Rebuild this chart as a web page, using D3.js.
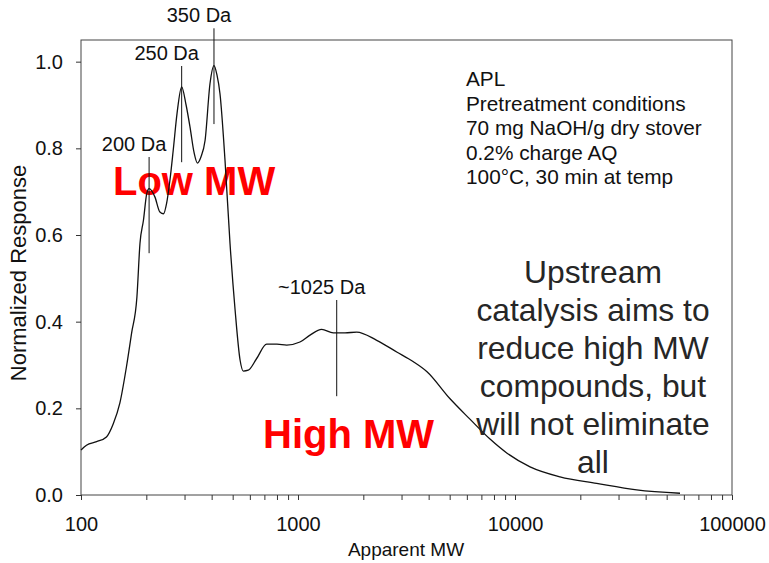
<!DOCTYPE html>
<html lang="en">
<head>
    <meta charset="UTF-8">
    <title>Apparent MW distribution</title>
    <style>
        body { margin: 0; background: #fff; }
        svg text { font-family: "Liberation Sans", Arial, sans-serif; }
        .axis path.domain { display: none; }
        .axis line { stroke: #333; }
    </style>
    <script src="https://d3js.org/d3.v7.min.js"></script>
</head>
<body>
    <script>
        // curve: apparent MW (Da) and normalized response
        const mw = [100, 106, 118, 131, 141, 151, 162, 171, 181, 187, 194, 201, 206, 219, 231, 240, 248, 257, 266, 277,
            291, 305, 318, 332, 344, 357, 373, 393, 410, 423, 437, 461, 486, 513, 541, 560, 590, 645, 717, 800,
            887, 1021, 1136, 1286, 1454, 1647, 1864, 2305, 2850, 3390, 3920, 5020, 6200, 7670, 9160, 11730, 16120,
            23790, 36380, 57600];
        const response = [0.104, 0.115, 0.123, 0.134, 0.165, 0.212, 0.296, 0.373, 0.457, 0.581, 0.634, 0.696, 0.707, 0.688, 0.653, 0.649, 0.673, 0.727, 0.795, 0.88,
            0.942, 0.90, 0.849, 0.79, 0.766, 0.78, 0.818, 0.949, 0.991, 0.97, 0.926, 0.772, 0.581, 0.427, 0.311, 0.286, 0.288, 0.315, 0.348, 0.348,
            0.346, 0.353, 0.369, 0.382, 0.374, 0.374, 0.376, 0.357, 0.330, 0.308, 0.285, 0.222, 0.175, 0.129, 0.097, 0.065, 0.042,
            0.027, 0.012, 0.004];

        // peak markers
        const peakLabels = ["200 Da", "250 Da", "350 Da", "~1025 Da"];
        const peakMW = [206, 291, 410, 1508];
        const peakTop = [0.78, 0.99, 1.077, 0.45];
        const peakBottom = [0.558, 0.768, 0.856, 0.228];

        const xMajor = [100, 1000, 10000, 100000];
        const yTicks = [0, 0.2, 0.4, 0.6, 0.8, 1.0];

        const infoLines = ["APL", "Pretreatment conditions", "70 mg NaOH/g dry stover", "0.2% charge AQ", "100°C, 30 min at temp"];
        const noteLines = ["Upstream", "catalysis aims to", "reduce high MW", "compounds, but", "will not eliminate", "all"];

        const W = 769, H = 563;
        const plotL = 81, plotR = 732, plotT = 40, plotB = 495;

        const svg = d3.select("body").append("svg")
            .attr("width", W).attr("height", H);

        const x = d3.scaleLog().domain([100, 100000]).range([plotL, plotR]);
        const y = d3.scaleLinear().domain([0, 1.05]).range([plotB, plotT]);

        // frame
        svg.append("rect")
            .attr("x", plotL).attr("y", plotT)
            .attr("width", plotR - plotL).attr("height", plotB - plotT)
            .attr("fill", "none").attr("stroke", "#444").attr("stroke-width", 1);

        // axes
        const xAxis = svg.append("g").attr("class", "axis")
            .attr("transform", `translate(0,${plotB})`)
            .call(d3.axisBottom(x)
                .tickValues(x.ticks())
                .tickFormat(d => xMajor.includes(d) ? d3.format("d")(d) : "")
                .tickSizeInner(5).tickSizeOuter(0).tickPadding(17));

        const yAxis = svg.append("g").attr("class", "axis")
            .attr("transform", `translate(${plotL},0)`)
            .call(d3.axisLeft(y)
                .tickValues(yTicks)
                .tickFormat(d3.format(".1f"))
                .tickSizeInner(5).tickSizeOuter(0).tickPadding(13));

        [xAxis, yAxis].forEach(g => g.selectAll("text")
            .style("font-size", "20px")
            .style("font-family", "'Liberation Sans', Arial, sans-serif")
            .attr("fill", "#111"));

        svg.append("text")
            .attr("x", 406).attr("y", 556)
            .attr("text-anchor", "middle")
            .attr("font-size", 19).attr("fill", "#111")
            .text("Apparent MW");

        svg.append("text")
            .attr("transform", "translate(26,273) rotate(-90)")
            .attr("text-anchor", "middle")
            .attr("font-size", 22).attr("fill", "#111")
            .text("Normalized Response");

        // red region labels sit under the curve
        svg.append("text")
            .attr("x", 113).attr("y", 195)
            .attr("font-size", 40).attr("font-weight", "bold").attr("fill", "#ff0000")
            .text("Low MW");

        svg.append("text")
            .attr("x", 263).attr("y", 448)
            .attr("font-size", 40).attr("font-weight", "bold").attr("fill", "#ff0000")
            .text("High MW");

        // curve
        const points = mw.map((m, i) => [m, response[i]]);
        const line = d3.line()
            .x(d => x(d[0]))
            .y(d => y(d[1]))
            .curve(d3.curveMonotoneX);

        svg.append("path")
            .datum(points)
            .attr("d", line)
            .attr("fill", "none")
            .attr("stroke", "#111")
            .attr("stroke-width", 1.3)
            .attr("stroke-linejoin", "round");

        // peak marker lines and labels
        const peaks = svg.append("g");
        peakLabels.forEach((label, i) => {
            const px = x(peakMW[i]);
            peaks.append("line")
                .attr("x1", px).attr("x2", px)
                .attr("y1", y(peakTop[i])).attr("y2", y(peakBottom[i]))
                .attr("stroke", "#111").attr("stroke-width", 1);
            peaks.append("text")
                .attr("x", px - 15).attr("y", y(peakTop[i]) - 6)
                .attr("text-anchor", "middle")
                .attr("font-size", 20).attr("fill", "#111")
                .text(label);
        });

        // conditions block
        svg.append("g").selectAll("text")
            .data(infoLines).enter().append("text")
            .attr("x", 466)
            .attr("y", (d, i) => 86 + i * 24.5)
            .attr("font-size", 20.8).attr("fill", "#111")
            .text(d => d);

        // note on the right
        svg.append("g").selectAll("text")
            .data(noteLines).enter().append("text")
            .attr("x", 593)
            .attr("y", (d, i) => 283 + i * 38)
            .attr("text-anchor", "middle")
            .attr("font-size", 31.8).attr("fill", "#262626")
            .text(d => d);
    </script>
</body>
</html>
